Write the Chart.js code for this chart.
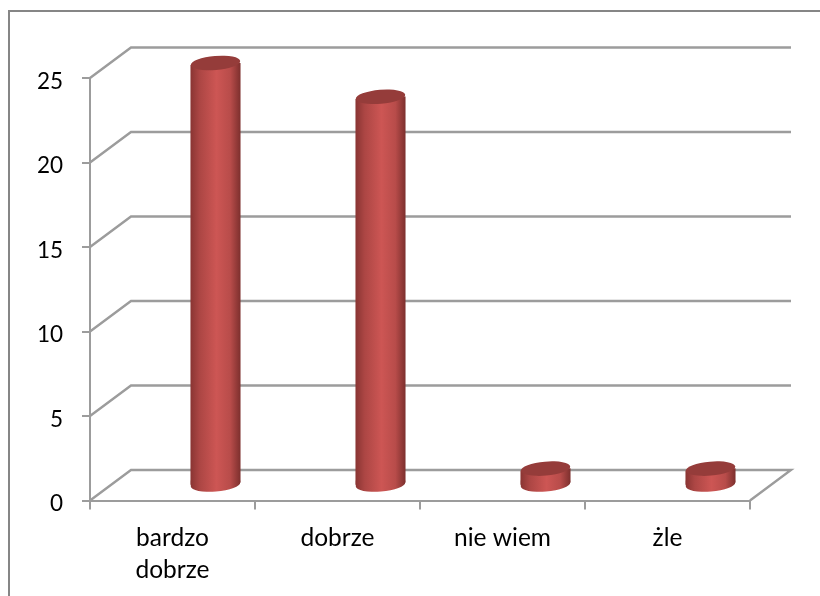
<!DOCTYPE html>
<html><head><meta charset="utf-8">
<style>html,body{margin:0;padding:0;background:#fff}canvas{display:block}</style>
<script src="https://cdn.jsdelivr.net/npm/chart.js@4"></script>
</head><body><canvas id="c" width="820" height="596"></canvas>
<script>
const categories = [['bardzo','dobrze'],'dobrze','nie wiem','żle'];
const values = [25,23,1,1];
const yTicks = [0,5,10,15,20,25];
const GRID='#9c9c9c', FRAME='#868686';
const DX=41, DY=-30.5, BX=43, BY=-15, RX=24.8, RY=7, TILT=-0.085;
const HW=24.7, SLOPE=HW*Math.sin(TILT);

const scene={id:'scene',
 beforeDraw(ch){const c=ch.ctx;c.save();c.strokeStyle=FRAME;c.lineWidth=2;c.beginPath();c.moveTo(9,600);c.lineTo(9,11);c.lineTo(824,11);c.stroke();c.restore();},
 beforeDatasetsDraw(ch){
  const c=ch.ctx,x=ch.scales.x,y=ch.scales.y;
  c.save();c.strokeStyle=GRID;c.lineWidth=2.4;c.lineJoin='miter';
  yTicks.forEach(v=>{const p=y.getPixelForValue(v);
    c.beginPath();c.moveTo(x.left,p);c.lineTo(x.left+DX,p+DY);c.lineTo(x.right+DX,p+DY);
    if(v===0)c.lineTo(x.right,p);
    c.stroke();});
  c.restore();
 },
 beforeDatasetDraw(ch,a){
  const c=ch.ctx,m=ch.getDatasetMeta(a.index);
  c.save();c.translate(BX,BY);
  m.data.forEach((b,i)=>{
    c.beginPath();c.ellipse(b.x,b.base,RX,RY,TILT,0,Math.PI*2);
    c.moveTo(b.x-HW,b.base-4);c.lineTo(b.x+HW,b.base-4);c.lineTo(b.x+HW,b.base+SLOPE);c.lineTo(b.x-HW,b.base-SLOPE);c.closePath();
    c.fillStyle=grad(ch,i);c.fill();
  });
  c.save();c.beginPath();
  m.data.forEach(b=>{
    c.moveTo(b.x-HW-1,b.y-SLOPE);c.lineTo(b.x+HW+1,b.y+SLOPE);c.lineTo(b.x+HW+1,b.base+SLOPE);c.lineTo(b.x-HW-1,b.base-SLOPE);c.closePath();
  });
  c.clip();
 },
 afterDatasetDraw(ch,a){
  const c=ch.ctx,m=ch.getDatasetMeta(a.index);
  c.restore();
  m.data.forEach(b=>{c.beginPath();c.ellipse(b.x,b.y,RX,RY,TILT,0,Math.PI*2);c.fillStyle='#953c3a';c.fill();});
  c.restore();
 }};
function grad(ch,i){
  const xc=ch.scales.x.getPixelForValue(i);
  if(!isFinite(xc))return '#c0504d';
  const g=ch.ctx.createLinearGradient(xc-RX,0,xc+RX,0);
  g.addColorStop(0,'#8a3533');g.addColorStop(0.18,'#ac4644');g.addColorStop(0.52,'#cd5654');
  g.addColorStop(0.8,'#b84c4a');g.addColorStop(1,'#7e302e');
  return g;
}
new Chart(document.getElementById('c'),{
 type:'bar',
 data:{labels:categories,datasets:[{data:values,barThickness:49.4,borderWidth:0,
   backgroundColor:ctx=>(ctx.chart.scales&&ctx.chart.scales.x&&ctx.chart.chartArea)?grad(ctx.chart,ctx.dataIndex):'#c0504d'}]},
 options:{responsive:false,animation:false,
  layout:{padding:{left:0,top:78,right:70,bottom:0}},
  plugins:{legend:{display:false},title:{display:false},tooltip:{enabled:false}},
  scales:{
   x:{afterFit:s=>{s.height=95.5},
      grid:{drawOnChartArea:false,color:GRID,lineWidth:2,tickLength:9,offset:true},
      border:{color:GRID,width:2},
      ticks:{color:'#000',maxRotation:0,autoSkip:false,padding:13,font:{family:'Lato',size:24.5,lineHeight:1.3}}},
   y:{min:0,max:25,afterFit:s=>{s.width=90},
      afterBuildTicks:s=>{s.ticks=yTicks.map(v=>({value:v}))},
      grid:{drawOnChartArea:false,color:GRID,lineWidth:2,tickLength:8},
      border:{color:GRID,width:2},
      ticks:{color:'#000',padding:19,labelOffset:3.5,font:{family:'Lato',size:22.5}}}
  }},
 plugins:[scene]});
</script></body></html>
